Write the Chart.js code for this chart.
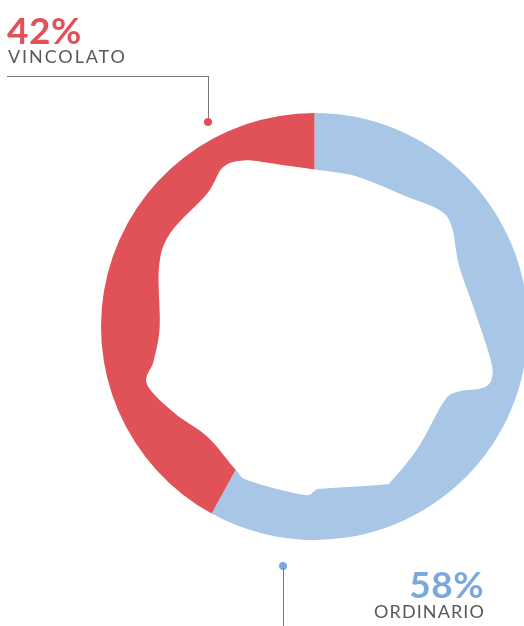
<!DOCTYPE html>
<html>
<head>
<meta charset="utf-8">
<script src="https://cdn.jsdelivr.net/npm/chart.js@4.4.1/dist/chart.umd.min.js"></script>
<style>
    html, body { margin: 0; padding: 0; background: #fff; overflow: hidden; }
    #wrap { position: absolute; left: 0; top: 0; width: 540px; height: 626px; }
    .pct { position: absolute; font-family: 'Lato', sans-serif; font-weight: 700; font-size: 37px; line-height: 1; letter-spacing: 0.5px; }
    .name { position: absolute; font-family: 'Lato', sans-serif; font-size: 18px; line-height: 1; color: #595959; }
    .hl { position: absolute; background: #7a7a7a; }
    .dot { position: absolute; width: 8px; height: 8px; border-radius: 50%; }
</style>
</head>
<body>
<div id="wrap"><canvas id="donut"></canvas></div>

<div class="pct" id="pct_v" style="left:7px; top:11px; color:#e05257;"></div>
<div class="name" id="name_v" style="left:8px; top:47px; letter-spacing:1.9px;"></div>
<div class="hl" style="left:7px; top:76px; width:202px; height:1px;"></div>
<div class="hl" style="left:208px; top:76px; width:1px; height:44px;"></div>
<div class="dot" style="left:204px; top:118px; background:#e05257;"></div>

<div class="pct" id="pct_o" style="right:40px; top:565px; color:#7aa9dc;"></div>
<div class="name" id="name_o" style="right:39px; top:602px; letter-spacing:1.1px;"></div>
<div class="dot" style="left:279px; top:562px; background:#7aa9dc;"></div>
<div class="hl" style="left:283px; top:568px; width:1px; height:60px;"></div>

<script>
    // data
    var categories = ['ORDINARIO', 'VINCOLATO'];
    var shares = [58, 42];
    var colors = ['#a8c6e5', '#e05257'];

    document.getElementById('pct_o').textContent = shares[0] + '%';
    document.getElementById('name_o').textContent = categories[0];
    document.getElementById('pct_v').textContent = shares[1] + '%';
    document.getElementById('name_v').textContent = categories[1];

    // wavy inner edge: [angle from top clockwise (deg), radius as share of outer radius]
    var blob = [
        [0, 0.735], [16, 0.73], [35, 0.745], [47, 0.80], [54, 0.795], [67, 0.735],
        [83, 0.75], [100, 0.835], [106, 0.865], [110, 0.84], [115, 0.73], [121, 0.70],
        [139, 0.745], [153, 0.805], [157, 0.805], [177, 0.76], [180, 0.77], [184, 0.79],
        [203, 0.785], [209, 0.765], [224, 0.72], [238, 0.77], [251, 0.83], [258, 0.77],
        [270, 0.725], [291, 0.78], [303, 0.805], [321, 0.80], [330, 0.86], [337, 0.845], [347, 0.78]
    ];

    var innerBlob = {
        id: 'innerBlob',
        afterDatasetsDraw: function (chart) {
            var arc = chart.getDatasetMeta(0).data[0];
            var cx = arc.x, cy = arc.y, R = arc.outerRadius;
            var pts = blob.map(function (b) {
                var a = (b[0] - 90) * Math.PI / 180;
                return [cx + Math.cos(a) * b[1] * R, cy + Math.sin(a) * b[1] * R];
            });
            var ctx = chart.ctx;
            var n = pts.length;
            ctx.save();
            ctx.beginPath();
            // closed catmull-rom
            ctx.moveTo(pts[0][0], pts[0][1]);
            for (var i = 0; i < n; i++) {
                var p0 = pts[(i - 1 + n) % n], p1 = pts[i], p2 = pts[(i + 1) % n], p3 = pts[(i + 2) % n];
                ctx.bezierCurveTo(
                    p1[0] + (p2[0] - p0[0]) / 6, p1[1] + (p2[1] - p0[1]) / 6,
                    p2[0] - (p3[0] - p1[0]) / 6, p2[1] - (p3[1] - p1[1]) / 6,
                    p2[0], p2[1]);
            }
            ctx.closePath();
            ctx.fillStyle = '#ffffff';
            ctx.fill();
            ctx.restore();
        }
    };

    new Chart(document.getElementById('donut'), {
        type: 'doughnut',
        data: {
            labels: categories,
            datasets: [{
                data: shares,
                backgroundColor: colors,
                borderWidth: 0
            }]
        },
        options: {
            responsive: true,
            maintainAspectRatio: false,
            animation: false,
            cutout: '60%',
            layout: { padding: { left: 101, right: 12, top: 113, bottom: 86 } },
            plugins: {
                legend: { display: false },
                tooltip: { enabled: false }
            }
        },
        plugins: [innerBlob]
    });
</script>
</body>
</html>
